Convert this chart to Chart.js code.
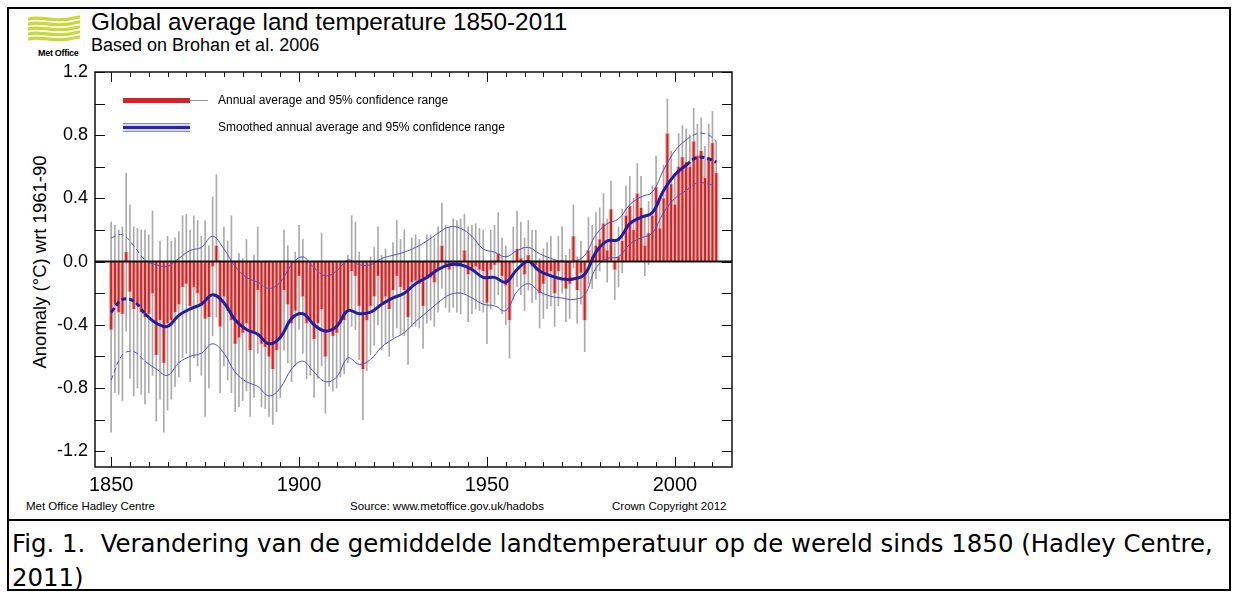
<!DOCTYPE html>
<html>
<head>
<meta charset="utf-8">
<script src="https://cdn.jsdelivr.net/npm/chart.js@4.4.1/dist/chart.umd.min.js"></script>
<style>
  body { margin: 0; width: 1233px; height: 593px; background: #fff; position: relative; overflow: hidden;
         font-family: 'Liberation Sans', Arial, sans-serif; color: #000; }
  .abs { position: absolute; white-space: nowrap; }
  #frame { left: 7px; top: 7px; width: 1224px; height: 584px; border: 2px solid #000; box-sizing: border-box; }
  #sep { left: 7px; top: 519px; width: 1224px; height: 2px; background: #000; }
  #chart { position: absolute; left: 0; top: 0; }
  .foot { font-size: 11.5px; top: 500px; }
  .leg { font-size: 12px; }
  #caption { left: 12px; top: 527px; font-family: 'DejaVu Sans', Verdana, sans-serif; font-size: 24.4px;
             line-height: 34px; }
</style>
</head>
<body>
<div id="frame" class="abs"></div>
<div id="sep" class="abs"></div>

<svg class="abs" style="left:28px; top:15px" width="52" height="28" viewBox="0 0 52 28">
  <g fill="none" stroke="#c3db3a" stroke-width="3.2" stroke-linecap="round">
    <path d="M1 4 C 12 0, 24 9, 51 2"/>
    <path d="M1 9 C 12 5, 24 14, 51 7"/>
    <path d="M1 14 C 12 10, 24 19, 51 12"/>
    <path d="M1 19 C 12 15, 24 24, 51 17"/>
    <path d="M1 24 C 12 20, 24 29, 51 22"/>
  </g>
</svg>
<div class="abs" style="left:38px; top:48px; font-size:9px; font-weight:bold; letter-spacing:-0.3px">Met Office</div>

<div class="abs" style="left:91px; top:8px; font-size:24.3px">Global average land temperature 1850-2011</div>
<div class="abs" style="left:91px; top:35px; font-size:18px">Based on Brohan et al. 2006</div>
<div class="abs" style="left:40px; top:262px; font-size:18.5px; transform: translate(-50%,-50%) rotate(-90deg)">Anomaly (°C) wrt 1961-90</div>

<canvas id="chart" width="760" height="500"></canvas>

<!-- legend -->
<div class="abs" style="left:123px; top:98px; width:67px; height:5px; background:#d42323"></div>
<div class="abs" style="left:190px; top:100px; width:18px; height:1px; background:#999"></div>
<div class="abs leg" style="left:218px; top:93px">Annual average and 95% confidence range</div>
<div class="abs" style="left:123px; top:123px; width:67px; height:9px; background:#d8d8f4; border-top:1px solid #8a8ad8; border-bottom:1px solid #8a8ad8; box-sizing:border-box"></div>
<div class="abs" style="left:123px; top:126px; width:67px; height:3px; background:#2626a6"></div>
<div class="abs leg" style="left:218px; top:120px">Smoothed annual average and 95% confidence range</div>

<div class="abs foot" style="left:26px">Met Office Hadley Centre</div>
<div class="abs foot" style="left:350px">Source: www.metoffice.gov.uk/hadobs</div>
<div class="abs foot" style="left:612px">Crown Copyright 2012</div>

<div id="caption" class="abs">Fig. 1.&nbsp; Verandering van de gemiddelde landtemperatuur op de wereld sinds 1850 (Hadley Centre,<br>2011)</div>

<script>
// annual land temperature anomaly (°C wrt 1961-90), 1850-2011
const firstYear = 1850;
const annual = [
  -0.43, -0.27, -0.32, -0.33, 0.06, -0.19, -0.30, -0.27, -0.32, -0.35,
  -0.33, -0.20, -0.59, -0.37, -0.64, -0.39, -0.37, -0.32, -0.27, -0.16,
  -0.14, -0.28, -0.16, -0.20, -0.28, -0.36, -0.35, -0.03, 0.10, -0.41,
  -0.22, -0.31, -0.37, -0.52, -0.48, -0.45, -0.39, -0.56, -0.45, -0.18,
  -0.52, -0.54, -0.60, -0.68, -0.56, -0.48, -0.18, -0.27, -0.39, -0.31,
  -0.09, -0.22, -0.39, -0.37, -0.49, -0.39, -0.30, -0.60, -0.43, -0.47,
  -0.45, -0.39, -0.37, -0.30, -0.06, -0.09, -0.28, -0.68, -0.37, -0.28,
  -0.22, -0.09, -0.26, -0.22, -0.30, -0.18, -0.09, -0.16, -0.18, -0.35,
  -0.13, -0.12, -0.14, -0.28, -0.11, -0.10, -0.13, -0.05, 0.10, -0.03,
  -0.05, -0.01, -0.03, -0.03, 0.07, -0.08, -0.05, -0.03, -0.05, -0.06,
  -0.26, -0.05, -0.02, 0.05, -0.09, -0.15, -0.37, -0.01, 0.08, 0.02,
  -0.08, 0.04, -0.03, -0.02, -0.20, -0.14, -0.09, -0.06, -0.20, -0.06,
  0.01, -0.17, -0.14, 0.16, -0.18, -0.07, -0.37, 0.07, 0.03, 0.10,
  0.14, 0.24, 0.07, 0.33, -0.05, 0.03, 0.13, 0.29, 0.35, 0.20,
  0.43, 0.34, 0.10, 0.18, 0.29, 0.47, 0.21, 0.40, 0.81, 0.49,
  0.36, 0.60, 0.66, 0.63, 0.60, 0.76, 0.67, 0.70, 0.53, 0.66,
  0.75, 0.56
];
// 95% confidence range of each annual value
const ciLow = [
  -1.08, -0.83, -0.84, -0.88, -0.44, -0.74, -0.85, -0.80, -0.84, -0.90,
  -0.83, -0.72, -1.01, -0.87, -1.08, -0.94, -0.87, -0.79, -0.73, -0.61,
  -0.58, -0.76, -0.61, -0.66, -0.72, -0.98, -0.80, -0.47, -0.35, -0.83,
  -0.66, -0.75, -0.83, -0.95, -0.92, -0.88, -0.82, -0.98, -0.86, -0.58,
  -0.92, -0.93, -0.98, -1.03, -0.95, -0.86, -0.56, -0.64, -0.76, -0.66,
  -0.43, -0.58, -0.74, -0.72, -0.86, -0.74, -0.66, -0.96, -0.79, -0.82,
  -0.80, -0.73, -0.71, -0.64, -0.41, -0.43, -0.62, -1.00, -0.69, -0.59,
  -0.53, -0.40, -0.56, -0.52, -0.60, -0.48, -0.42, -0.46, -0.47, -0.65,
  -0.41, -0.41, -0.42, -0.55, -0.39, -0.37, -0.41, -0.32, -0.17, -0.29,
  -0.32, -0.29, -0.32, -0.33, -0.20, -0.38, -0.33, -0.30, -0.31, -0.32,
  -0.52, -0.30, -0.27, -0.21, -0.33, -0.40, -0.61, -0.24, -0.16, -0.21,
  -0.31, -0.18, -0.26, -0.24, -0.42, -0.36, -0.30, -0.28, -0.41, -0.28,
  -0.20, -0.38, -0.36, -0.04, -0.39, -0.27, -0.57, -0.14, -0.17, -0.11,
  -0.06, 0.05, -0.13, 0.15, -0.24, -0.16, -0.07, 0.10, 0.16, 0.00,
  0.24, 0.14, -0.09, -0.02, 0.10, 0.27, 0.01, 0.19, 0.59, 0.28,
  0.16, 0.39, 0.46, 0.42, 0.40, 0.55, 0.47, 0.49, 0.33, 0.45,
  0.55, 0.36
];
const ciHigh = [
  0.25, 0.23, 0.20, 0.22, 0.56, 0.36, 0.22, 0.21, 0.20, 0.20,
  0.17, 0.32, -0.17, 0.13, -0.20, 0.16, 0.13, 0.15, 0.19, 0.29,
  0.30, 0.20, 0.29, 0.26, 0.16, 0.26, 0.10, 0.41, 0.55, 0.01,
  0.22, 0.13, 0.29, -0.09, 0.05, 0.02, 0.14, -0.12, 0.04, 0.22,
  -0.08, -0.10, -0.16, -0.27, -0.16, -0.08, 0.20, 0.10, -0.02, 0.06,
  0.23, 0.14, -0.04, 0.00, -0.12, -0.05, 0.18, -0.24, -0.07, -0.12,
  -0.10, -0.05, -0.03, 0.04, 0.29, 0.25, 0.06, -0.36, -0.05, 0.03,
  0.09, 0.22, 0.04, 0.08, 0.00, 0.12, 0.26, 0.14, 0.20, -0.05,
  0.15, 0.17, 0.14, -0.01, 0.17, 0.17, 0.15, 0.22, 0.37, 0.23,
  0.22, 0.27, 0.26, 0.27, 0.30, 0.22, 0.23, 0.24, 0.21, 0.20,
  0.00, 0.20, 0.23, 0.31, 0.15, 0.10, -0.13, 0.22, 0.32, 0.25,
  0.15, 0.26, 0.20, 0.20, 0.02, 0.08, 0.12, 0.16, 0.01, 0.16,
  0.22, 0.04, 0.08, 0.36, 0.03, 0.13, -0.17, 0.28, 0.23, 0.31,
  0.34, 0.43, 0.27, 0.51, 0.14, 0.22, 0.33, 0.48, 0.54, 0.40,
  0.62, 0.54, 0.29, 0.38, 0.48, 0.67, 0.41, 0.61, 1.03, 0.70,
  0.56, 0.81, 0.86, 0.84, 0.80, 0.97, 0.87, 0.91, 0.73, 0.87,
  0.95, 0.76
];

// smoothed series and its 95% range, read every third year
const smoothYears = [1850, 1853, 1856, 1859, 1862, 1865, 1868, 1871, 1874, 1877, 1880, 1883, 1886, 1889,
  1892, 1895, 1898, 1901, 1904, 1907, 1910, 1913, 1916, 1919, 1922, 1925, 1928, 1931, 1934, 1937,
  1940, 1943, 1946, 1949, 1952, 1955, 1958, 1961, 1964, 1967, 1970, 1973, 1976, 1979, 1982, 1985,
  1988, 1991, 1994, 1997, 2000, 2003, 2006, 2009, 2011];
const smoothMid = [-0.32, -0.24, -0.25, -0.33, -0.39, -0.41, -0.34, -0.30, -0.27, -0.21, -0.26, -0.37, -0.43, -0.46,
  -0.52, -0.48, -0.36, -0.33, -0.40, -0.44, -0.41, -0.31, -0.33, -0.32, -0.27, -0.23, -0.20, -0.14, -0.10, -0.05,
  -0.02, -0.02, -0.05, -0.10, -0.10, -0.13, -0.05, 0.00, -0.06, -0.09, -0.11, -0.11, -0.08, 0.06, 0.13, 0.14,
  0.24, 0.28, 0.31, 0.45, 0.55, 0.61, 0.66, 0.65, 0.63];
const smoothHi = [0.15, 0.17, 0.10, 0.01, -0.02, -0.03, 0.02, 0.07, 0.09, 0.16, 0.08, -0.03, -0.10, -0.13,
  -0.17, -0.13, -0.02, 0.03, -0.04, -0.09, -0.06, 0.01, -0.02, -0.02, 0.02, 0.04, 0.06, 0.09, 0.13, 0.18,
  0.22, 0.21, 0.16, 0.08, 0.06, 0.03, 0.07, 0.09, 0.05, 0.02, 0.00, 0.00, 0.04, 0.17, 0.24, 0.27,
  0.36, 0.41, 0.44, 0.58, 0.70, 0.77, 0.81, 0.80, 0.76];
const smoothLo = [-0.75, -0.59, -0.57, -0.63, -0.68, -0.72, -0.64, -0.60, -0.58, -0.52, -0.58, -0.70, -0.76, -0.79,
  -0.85, -0.80, -0.68, -0.63, -0.70, -0.76, -0.73, -0.61, -0.65, -0.62, -0.54, -0.49, -0.45, -0.38, -0.32, -0.26,
  -0.21, -0.20, -0.23, -0.27, -0.28, -0.31, -0.19, -0.14, -0.19, -0.22, -0.23, -0.24, -0.21, -0.04, 0.02, 0.03,
  0.11, 0.15, 0.18, 0.31, 0.40, 0.45, 0.50, 0.49, 0.48];

// axis ticks
const yTicks = [-1.2, -0.8, -0.4, 0.0, 0.4, 0.8, 1.2];
const yMinorTicks = [-1.2, -1.0, -0.8, -0.6, -0.4, -0.2, 0.0, 0.2, 0.4, 0.6, 0.8, 1.0, 1.2];
const xTicks = [1850, 1900, 1950, 2000];
const xMinorTicks = [1850, 1855, 1860, 1865, 1870, 1875, 1880, 1885, 1890, 1895, 1900, 1905, 1910, 1915,
  1920, 1925, 1930, 1935, 1940, 1945, 1950, 1955, 1960, 1965, 1970, 1975, 1980, 1985, 1990, 1995,
  2000, 2005, 2010];

const years = annual.map((v, i) => firstYear + i);
const pts = (xs, ys) => xs.map((x, i) => ({ x: x, y: ys[i] }));
const dashEnds = ctx => (ctx.p1.parsed.x <= 1859 || ctx.p0.parsed.x >= 2003) ? [5, 3] : undefined;

// inward IDL style ticks, plot frame and zero line
const frameTicks = {
  id: 'frameTicks',
  afterDatasetsDraw(chart) {
    const { ctx, chartArea: a, scales: { x, y } } = chart;
    ctx.save();
    ctx.strokeStyle = '#111';
    ctx.lineWidth = 2;
    const y0 = y.getPixelForValue(0);
    ctx.beginPath();
    ctx.moveTo(a.left, y0);
    ctx.lineTo(a.right, y0);
    ctx.stroke();

    ctx.lineWidth = 1;
    ctx.beginPath();
    xMinorTicks.forEach(v => {
      const px = Math.round(x.getPixelForValue(v)) + 0.5;
      const len = xTicks.includes(v) ? 10 : 5;
      ctx.moveTo(px, a.bottom); ctx.lineTo(px, a.bottom - len);
      ctx.moveTo(px, a.top); ctx.lineTo(px, a.top + len);
    });
    yMinorTicks.forEach(v => {
      const py = Math.round(y.getPixelForValue(v)) + 0.5;
      ctx.moveTo(a.left, py); ctx.lineTo(a.left + 10, py);
      ctx.moveTo(a.right, py); ctx.lineTo(a.right - 10, py);
    });
    ctx.stroke();

    ctx.lineWidth = 1.5;
    ctx.strokeRect(a.left, a.top, a.right - a.left, a.bottom - a.top);
    ctx.restore();
  }
};

Chart.defaults.font.family = "'Liberation Sans Narrow', 'Liberation Sans', Arial, sans-serif";
Chart.defaults.color = '#000';

new Chart(document.getElementById('chart'), {
  type: 'bar',
  data: {
    datasets: [
      {
        type: 'line', data: pts(smoothYears, smoothMid), borderColor: '#1e1ea6', borderWidth: 3,
        pointRadius: 0, tension: 0.4, segment: { borderDash: dashEnds }, order: 1
      },
      {
        type: 'line', data: pts(smoothYears, smoothHi), borderColor: '#5050c4', borderWidth: 1,
        pointRadius: 0, tension: 0.4, segment: { borderDash: dashEnds }, order: 1
      },
      {
        type: 'line', data: pts(smoothYears, smoothLo), borderColor: '#5050c4', borderWidth: 1,
        pointRadius: 0, tension: 0.4, segment: { borderDash: dashEnds }, order: 1
      },
      {
        data: pts(years, annual), backgroundColor: '#d02424', grouped: false,
        barPercentage: 0.55, categoryPercentage: 1, order: 2
      },
      {
        data: pts(years, annual), backgroundColor: '#f0b4b4', grouped: false,
        barPercentage: 1, categoryPercentage: 1, order: 3
      },
      {
        data: years.map((yr, i) => ({ x: yr, y: [ciLow[i], ciHigh[i]] })), backgroundColor: '#ababab',
        grouped: false, barThickness: 1, order: 4
      }
    ]
  },
  options: {
    responsive: false,
    animation: false,
    layout: { padding: { top: 72, right: 28, left: 0, bottom: 0 } },
    plugins: { legend: { display: false }, tooltip: { enabled: false } },
    scales: {
      x: {
        type: 'linear', min: 1845.7, max: 2015.2, offset: false,
        grid: { display: false, drawTicks: false, offset: false }, border: { display: false },
        afterBuildTicks: s => { s.ticks = xTicks.map(v => ({ value: v })); },
        afterFit: s => { s.height = 33; },
        ticks: { font: { size: 20 }, padding: 6, maxRotation: 0, callback: v => String(v) }
      },
      y: {
        min: -1.3, max: 1.2,
        grid: { display: false, drawTicks: false }, border: { display: false },
        afterBuildTicks: s => { s.ticks = yTicks.map(v => ({ value: v })); },
        afterFit: s => { s.width = 95; },
        ticks: { font: { size: 18 }, padding: 7, callback: v => v.toFixed(1) }
      }
    }
  },
  plugins: [frameTicks]
});
</script>
</body>
</html>
